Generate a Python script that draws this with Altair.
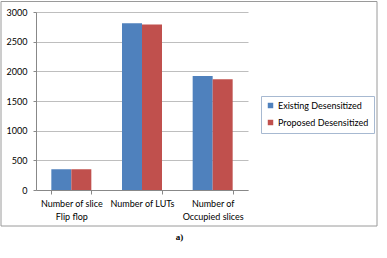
import altair as alt
import pandas as pd

categories = ["Number of slice\nFlip flop", "Number of LUTs", "Number of\nOccupied slices"]
series = ["Existing Desensitized", "Proposed Desensitized"]
existing = [350, 2810, 1920]
proposed = [350, 2790, 1865]
y_ticks = [0, 500, 1000, 1500, 2000, 2500, 3000]
colors = ["#4F81BD", "#C0504D"]

rows = []
for c, e, p in zip(categories, existing, proposed):
    rows.append({"cat": c, "series": series[0], "value": e})
    rows.append({"cat": c, "series": series[1], "value": p})
df = pd.DataFrame(rows)

FONT = "Lato"
FS = 9

bars = alt.Chart(df).mark_bar().encode(
    x=alt.X("cat:N", sort=categories, title=None,
            scale=alt.Scale(paddingInner=0.434, paddingOuter=0.217),
            axis=alt.Axis(labelAngle=0, labelExpr="split(datum.label, '\\n')",
                          tickBand="extent", tickSize=4, tickColor="#888888",
                          domainColor="#888888", labelPadding=5,
                          labelFont=FONT, labelFontSize=FS, labelColor="#000000",
                          labelLineHeight=13, labelBaseline="top")),
    xOffset=alt.XOffset("series:N", sort=series, scale=alt.Scale(paddingInner=0, paddingOuter=0)),
    y=alt.Y("value:Q", title=None, scale=alt.Scale(domain=[0, 3000], nice=False),
            axis=alt.Axis(values=y_ticks, format="d", grid=True, gridColor="#BEBEBE", gridWidth=1,
                          domainColor="#888888", tickColor="#888888", tickSize=3,
                          labelPadding=6, labelFont=FONT, labelFontSize=FS,
                          labelColor="#000000")),
    color=alt.Color("series:N", sort=series, scale=alt.Scale(domain=series, range=colors),
                    legend=alt.Legend(title=None, orient="none", legendX=225, legendY=84,
                                      symbolType="square", symbolSize=30,
                                      symbolStrokeWidth=0,
                                      labelFont=FONT, labelFontSize=FS, labelColor="#000000",
                                      rowPadding=7, padding=5, strokeColor="#A7B9D1",
                                      labelOffset=3)),
)

deco = pd.DataFrame({"k": [0]})
border = alt.Chart(deco).mark_rect(fill=None, stroke="#9A9A9A", strokeWidth=1).encode(
    x=alt.value(-35), x2=alt.value(341), y=alt.value(-10.5), y2=alt.value(214)
)
label = alt.Chart(deco).mark_text(font="Liberation Serif", fontWeight="bold", fontSize=9,
                                  color="#000000").encode(
    x=alt.value(143.5), y=alt.value(224.5), text=alt.value("a)")
)

chart = alt.layer(border, bars, label).properties(
    width=212, height=178,
    autosize=alt.AutoSizeParams(type="none"),
    padding={"left": 36, "top": 12, "right": 139, "bottom": 68},
    background="#FFFFFF",
).configure_view(stroke=None)

chart.save("out.html", embed_options={"renderer": "svg", "actions": False})
